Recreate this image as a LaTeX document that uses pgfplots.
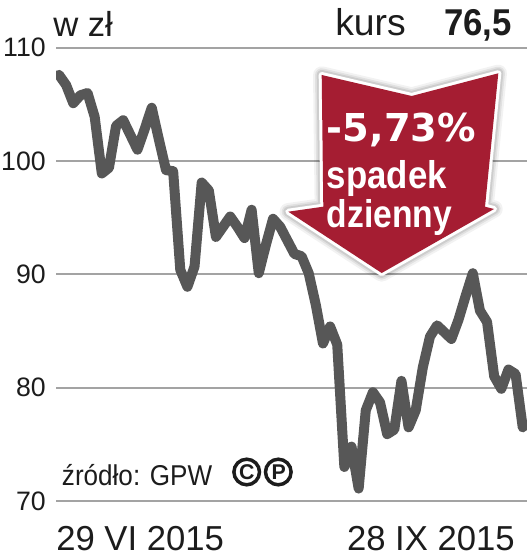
\documentclass[border=0pt]{standalone}
\usepackage{pgfplots}
\pgfplotsset{compat=1.18}
\usepackage{pgfplotstable}
\usepackage{graphicx}
\usepackage{fontspec}
\setmainfont{Liberation Sans}
\newfontfamily\dejavu{DejaVu Sans}

\definecolor{linegrey}{HTML}{575757}
\definecolor{gridgrey}{HTML}{A3A3A3}
\definecolor{arrowred}{HTML}{A51D32}
\definecolor{textdark}{HTML}{1C1C1C}

% daily closing price, 29 VI 2015 - 28 IX 2015 (session index, zl)
\pgfplotstableread{
idx price
0 107.6
1 106.7
2 105.1
3 105.8
4 106.0
5 103.9
6 98.9
7 99.4
8 103.1
9 103.6
10 102.3
11 101.0
12 102.8
13 104.7
14 101.9
15 99.2
16 99.1
17 90.4
18 88.9
19 90.7
20 98.1
21 97.4
22 93.3
23 94.2
24 95.1
25 94.2
26 93.2
27 95.7
28 90.1
29 92.6
30 94.9
31 94.2
32 93.0
33 91.8
34 91.6
35 90.1
36 87.3
37 83.9
38 85.4
39 83.8
40 73.0
41 74.8
42 71.1
43 78.0
44 79.6
45 78.7
46 75.9
47 76.3
48 80.6
49 76.5
50 78.0
51 81.8
52 84.5
53 85.5
54 84.9
55 84.3
56 86.0
57 88.1
58 90.1
59 86.8
60 85.8
61 81.0
62 79.9
63 81.6
64 81.2
65 76.5
}\kurs

\begin{document}
\begin{tikzpicture}
% canvas: 527 x 560 units of 0.75pt
\useasboundingbox (0pt,0pt) rectangle (395.25pt,-420pt);

\begin{axis}[
  at={(42pt,-375.75pt)}, anchor=south west,
  scale only axis, width=353.25pt, height=340pt,
  xmin=-0.42, xmax=65.6, ymin=70, ymax=110,
  axis line style={draw=none},
  major tick length=0pt,
  xtick=\empty,
  ytick={70,80,90,100,110},
  ymajorgrids,
  grid style={gridgrey, line width=1.5pt},
  /pgf/number format/assume math mode=true,
  yticklabel style={font=\fontsize{20}{20}\selectfont, text=textdark,
                    anchor=east, inner sep=0pt, xshift=-7.5pt},
]
\addplot[linegrey, line width=7.5pt, line join=round, line cap=round]
  table[x=idx, y=price]{\kurs};
\end{axis}

\begin{scope}[x=0.75pt, y=-0.75pt]
  % header
  \node[anchor=base west, inner sep=0pt, text=textdark,
        font=\fontsize{26}{26}\selectfont] at (53,37) {w zł};
  \node[anchor=base west, inner sep=0pt, text=textdark,
        font=\fontsize{28}{28}\selectfont] at (335,36) {kurs};
  \node[anchor=base east, inner sep=0pt, text=textdark,
        font=\bfseries\fontsize{28}{28}\selectfont] at (512,36) {\scalebox{0.93}[1]{76,5}};

  % red arrow with daily change
  \coordinate (a1) at (321.7,75);
  \coordinate (a2) at (411.7,96);
  \coordinate (a3) at (498.3,73.3);
  \coordinate (a4) at (485,206.7);
  \coordinate (a5) at (494,209);
  \coordinate (a6) at (381.7,273);
  \coordinate (a7) at (288.3,211.7);
  \coordinate (a8) at (323.3,206.7);
  \foreach \w/\o in {13/0.05, 10/0.07, 7.5/0.09}
    \draw[black, opacity=\o, line width=\w pt, line join=round]
      (a1)--(a2)--(a3)--(a4)--(a5)--(a6)--(a7)--(a8)--cycle;
  \draw[white, line width=4.5pt, line join=round]
      (a1)--(a2)--(a3)--(a4)--(a5)--(a6)--(a7)--(a8)--cycle;
  \fill[arrowred, line join=round]
      (a1)--(a2)--(a3)--(a4)--(a5)--(a6)--(a7)--(a8)--cycle;

  \node[anchor=base west, inner sep=0pt, text=white,
        font=\dejavu\bfseries\fontsize{28.8}{30}\selectfont] at (326.7,141.7) {-5,73\%};
  \node[anchor=base west, inner sep=0pt, text=white,
        font=\bfseries\fontsize{29}{29}\selectfont] at (326.7,188) {\scalebox{0.9}[1]{spadek}};
  \node[anchor=base west, inner sep=0pt, text=white,
        font=\bfseries\fontsize{29}{29}\selectfont] at (326.7,227) {\scalebox{0.87}[1]{dzienny}};

  % source line
  \node[anchor=base west, inner sep=0pt, text=textdark,
        font=\fontsize{21.5}{22}\selectfont] at (61.7,485) {\scalebox{0.91}[1]{źródło: GPW}};
  \draw[textdark, line width=2.6pt] (246.7,472) circle (9.6pt);
  \draw[textdark, line width=2.6pt] (278.3,472) circle (9.6pt);
  \node[inner sep=0pt, text=textdark, font=\bfseries\fontsize{16}{16}\selectfont] at (246.7,472) {C};
  \node[inner sep=0pt, text=textdark, font=\bfseries\fontsize{16}{16}\selectfont] at (278.8,472) {P};

  % date range
  \node[anchor=base west, inner sep=0pt, text=textdark,
        font=\fontsize{26}{26}\selectfont] at (56,550) {29 VI 2015};
  \node[anchor=base east, inner sep=0pt, text=textdark,
        font=\fontsize{26}{26}\selectfont] at (515,550) {28 IX 2015};
\end{scope}
\end{tikzpicture}
\end{document}
